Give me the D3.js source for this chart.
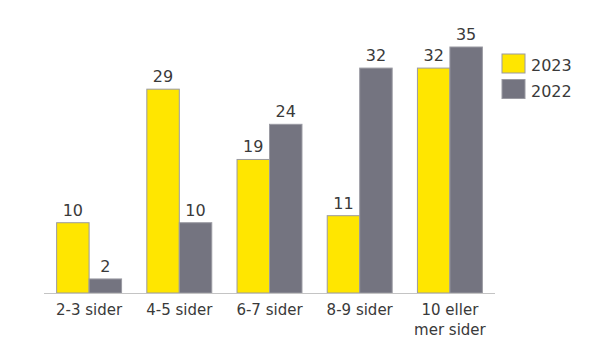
<!DOCTYPE html>
<html>
<head>
  <meta charset="UTF-8">
  <style>
    body { margin: 0; padding: 0; background: #fff; }
    svg { display: block; font-family: "DejaVu Sans", sans-serif; }
  </style>
</head>
<body>
  <svg></svg>
  <script src="https://d3js.org/d3.v7.min.js"></script>
  <script>
    const categories = ["2-3 sider", "4-5 sider", "6-7 sider", "8-9 sider", "10 eller\nmer sider"];
    const seriesNames = ["2023", "2022"];
    const values2023 = [10, 29, 19, 11, 32];
    const values2022 = [2, 10, 24, 32, 35];
    const colors = ["#FFE600", "#747480"];

    const width = 602, height = 364;
    const svg = d3.select("svg").attr("width", width).attr("height", height);

    const x = d3.scaleBand().domain(categories).range([44, 495]).paddingInner(0.28).paddingOuter(0.14);
    const x1 = d3.scaleBand().domain(seriesNames).range([0, x.bandwidth()]);
    const y = d3.scaleLinear().domain([0, 35]).range([293, 47]);

    const data = categories.map((c, i) => ({ cat: c, vals: [values2023[i], values2022[i]] }));

    const groups = svg.selectAll("g.grp")
        .data(data)
        .enter()
        .append("g")
        .attr("class", "grp")
        .attr("transform", d => `translate(${x(d.cat)},0)`);

    groups.selectAll("rect")
        .data(d => d.vals.map((v, j) => ({ v, s: seriesNames[j], j })))
        .enter()
        .append("rect")
        .attr("x", d => x1(d.s))
        .attr("y", d => y(d.v))
        .attr("width", x1.bandwidth())
        .attr("height", d => y(0) - y(d.v))
        .attr("fill", d => colors[d.j])
        .attr("stroke", "#9a9aa2")
        .attr("stroke-width", 1);

    // value labels above bars
    groups.selectAll("text.val")
        .data(d => d.vals.map((v, j) => ({ v, s: seriesNames[j] })))
        .enter()
        .append("text")
        .attr("class", "val")
        .attr("x", d => x1(d.s) + x1.bandwidth() / 2)
        .attr("y", d => y(d.v) - 7)
        .attr("text-anchor", "middle")
        .attr("font-size", 16)
        .attr("fill", "#3a3a3a")
        .text(d => d.v);

    // baseline
    svg.append("line")
        .attr("x1", 44).attr("x2", 495)
        .attr("y1", y(0) + 0.5).attr("y2", y(0) + 0.5)
        .attr("stroke", "#c4c4c4");

    // category labels
    const labels = svg.selectAll("text.cat")
        .data(categories)
        .enter()
        .append("text")
        .attr("class", "cat")
        .attr("text-anchor", "middle")
        .attr("font-size", 15)
        .attr("fill", "#3a3a3a");
    labels.selectAll("tspan")
        .data(d => d.split("\n").map(t => ({ t, c: d })))
        .enter()
        .append("tspan")
        .attr("x", d => x(d.c) + x.bandwidth() / 2)
        .attr("y", (d, i) => 315 + i * 20)
        .text(d => d.t);

    // legend
    const legend = svg.selectAll("g.leg")
        .data(seriesNames)
        .enter()
        .append("g")
        .attr("class", "leg")
        .attr("transform", (d, i) => `translate(502,${54 + i * 25.5})`);
    legend.append("rect")
        .attr("width", 23).attr("height", 19)
        .attr("fill", (d, i) => colors[i])
        .attr("stroke", "#9a9aa2");
    legend.append("text")
        .attr("x", 29).attr("y", 17)
        .attr("font-size", 16)
        .attr("fill", "#3a3a3a")
        .text(d => d);
  </script>
</body>
</html>
